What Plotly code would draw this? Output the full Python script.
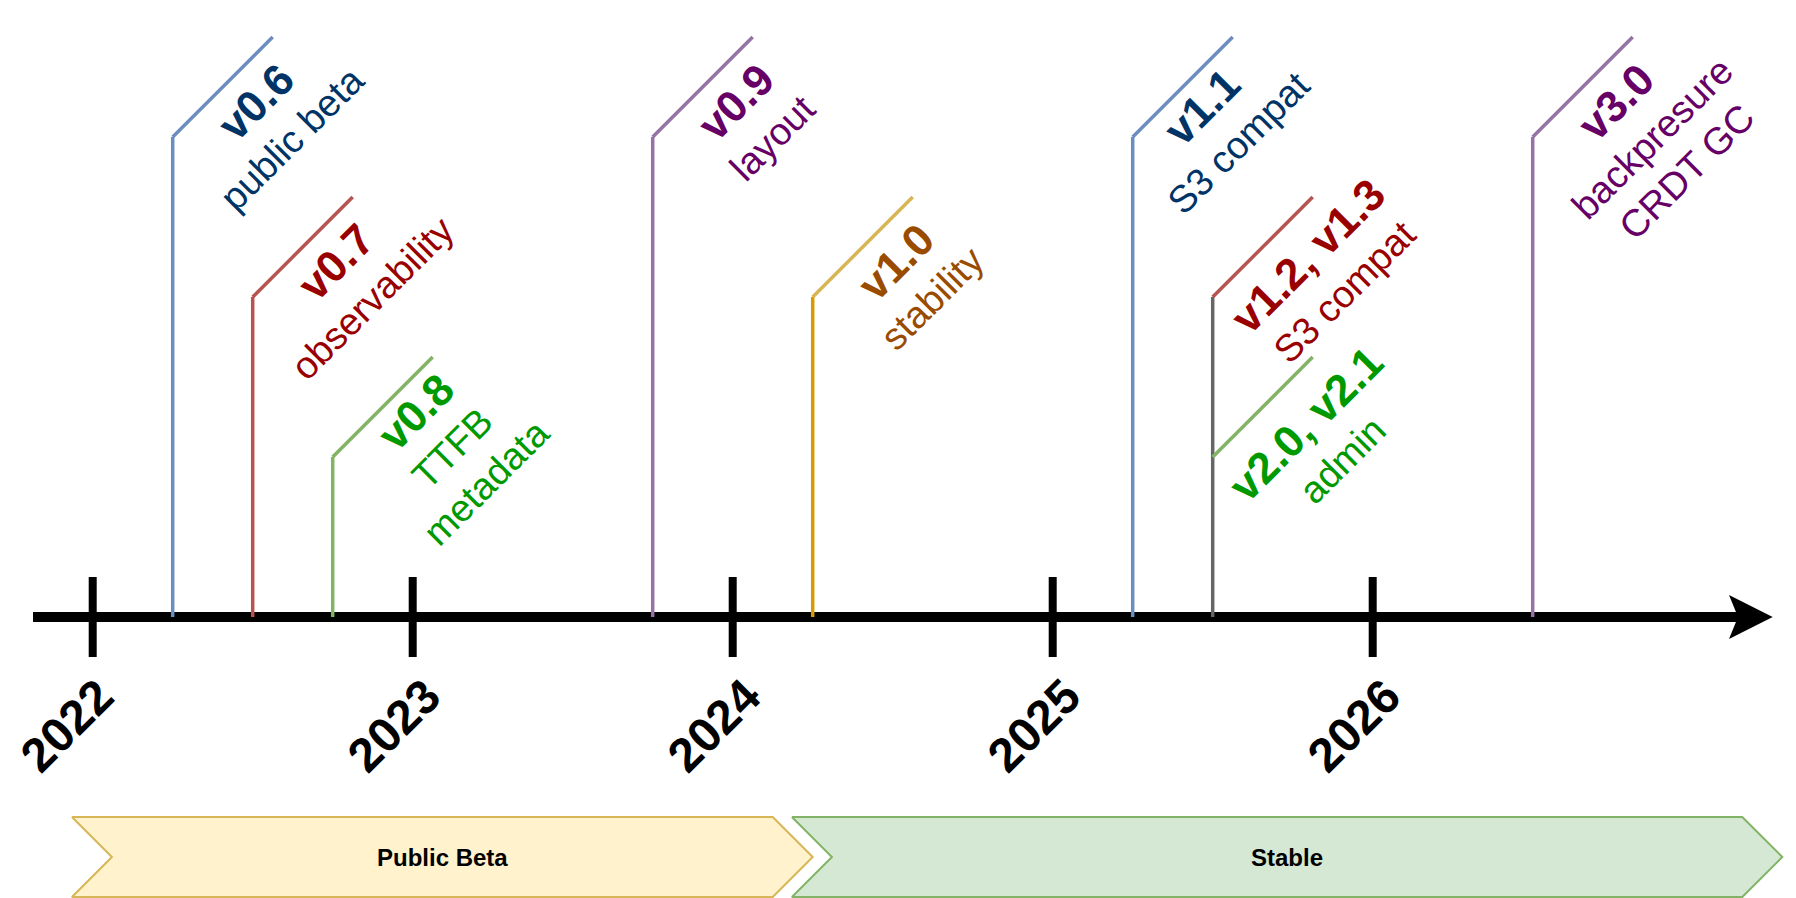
import math
import plotly.graph_objects as go

# --- data ---
years = [2022, 2023, 2024, 2025, 2026]

versions = ["v0.6", "v0.7", "v0.8", "v0.9", "v1.0", "v1.1", "v1.2, v1.3", "v2.0, v2.1", "v3.0"]
notes = [["public beta"], ["observability"], ["TTFB", "metadata"], ["layout"], ["stability"],
         ["S3 compat"], ["S3 compat"], ["admin"], ["backpresure", "CRDT GC"]]
release_dates = [2022.25, 2022.5, 2022.75, 2023.75, 2024.25, 2025.25, 2025.5, 2025.5, 2026.5]
levels = [3, 2, 1, 3, 2, 3, 2, 1, 3]

text_colors = ["#003366", "#990000", "#009900", "#660066", "#994c00",
               "#003366", "#990000", "#009900", "#660066"]
diag_colors = ["#6c8ebf", "#b85450", "#82b366", "#9673a6", "#d6b656",
               "#6c8ebf", "#b85450", "#82b366", "#9673a6"]
stem_colors = ["#6c8ebf", "#b85450", "#82b366", "#9673a6", "#d79b00",
               "#6c8ebf", "#666666", "#666666", "#9673a6"]

phases = ["Public Beta", "Stable"]
phase_start = [2021.935, 2024.185]
phase_end = [2024.25, 2027.28]
phase_fill = ["#fff2cc", "#d5e8d4"]
phase_line = ["#d6b656", "#82b366"]

# --- layout (pixels, figure coords; the page adds an 8px body margin) ---
W, H = 1788, 890
X0_PX = 84.7          # pixel position of the first year tick
PX_PER_YEAR = 320
AXIS_Y = 609          # pixel row of the time axis
LEVEL_PX = 160        # height of one stem level
DIAG = 100            # 45 degree leader length (px each way)
FONT = "Liberation Sans, Arial, Helvetica, sans-serif"

# small hand nudges (px) for a few label blocks, by release index
LABEL_NUDGE = {2: (0, 10), 5: (-14, -5), 6: (12, 6), 7: (10, -2)}
YEAR_NUDGE = {2022: -7}


def px(d):
    return d / PX_PER_YEAR


x_range = [years[0] - px(X0_PX), years[0] + px(W - X0_PX)]
y_range = [-(H - AXIS_Y), AXIS_Y]

fig = go.Figure()

# phase chevrons
for name, x0, x1, fc, lc in zip(phases, phase_start, phase_end, phase_fill, phase_line):
    top, bot, mid, d = -200, -280, -240, px(40)
    fig.add_trace(go.Scatter(
        x=[x0, x1 - d, x1, x1 - d, x0, x0 + d, x0],
        y=[top, top, mid, bot, bot, mid, top],
        mode="lines", fill="toself", fillcolor=fc,
        line=dict(color=lc, width=2), hoverinfo="skip", showlegend=False))
    fig.add_annotation(x=(x0 + x1) / 2, y=mid, text="<b>" + name + "</b>", showarrow=False,
                       font=dict(family=FONT, size=24, color="black"))

# stems: one per date, up to the highest level on that date
tops = {}
for i, d in enumerate(release_dates):
    if d not in tops or levels[i] > levels[tops[d]]:
        tops[d] = i
for d, i in tops.items():
    fig.add_trace(go.Scatter(
        x=[d, d], y=[0, levels[i] * LEVEL_PX], mode="lines",
        line=dict(color=stem_colors[i], width=3.5), hoverinfo="skip", showlegend=False))

# leaders and labels
ALONG = 84
PERP = [34, 86, 134]
r2 = math.sqrt(2)
for i, d in enumerate(release_dates):
    h = levels[i] * LEVEL_PX
    fig.add_trace(go.Scatter(
        x=[d, d + px(DIAG)], y=[h, h + DIAG], mode="lines",
        line=dict(color=diag_colors[i], width=3.5), hoverinfo="skip", showlegend=False))
    nx, ny = LABEL_NUDGE.get(i, (0, 0))
    lines = [("<b>" + versions[i] + "</b>", 44)] + [(n, 38) for n in notes[i]]
    for j, (txt, size) in enumerate(lines):
        p = PERP[j]
        fig.add_annotation(
            x=d, y=h, text=txt, showarrow=False, textangle=-45,
            xanchor="center", yanchor="middle",
            xshift=(ALONG + p) / r2 + nx, yshift=(ALONG - p) / r2 + ny,
            font=dict(family=FONT, size=size, color=text_colors[i]))

# time axis, ticks and arrow head
tip = x_range[0] + px(1764.7)
shapes = [dict(type="line", x0=x_range[0] + px(25), x1=tip - px(32), y0=0, y1=0,
               line=dict(color="black", width=10), layer="below")]
for yr in years:
    shapes.append(dict(type="line", x0=yr, x1=yr, y0=-40, y1=40,
                       line=dict(color="black", width=8), layer="below"))
    fig.add_annotation(x=yr, y=0, text="<b>%d</b>" % yr, showarrow=False, textangle=-45,
                       xanchor="center", yanchor="middle",
                       xshift=-19 + YEAR_NUDGE.get(yr, 0), yshift=-108,
                       font=dict(family=FONT, size=48, color="black"))
back, notch = tip - px(43.7), tip - px(34.7)
shapes.append(dict(type="path", layer="below", fillcolor="black", line=dict(width=0),
                   path="M %f,22 L %f,0 L %f,-22 L %f,0 Z" % (back, tip, back, notch)))

fig.update_layout(
    width=W, height=H, margin=dict(l=0, r=0, t=0, b=0),
    paper_bgcolor="white", plot_bgcolor="white",
    shapes=shapes, showlegend=False,
    xaxis=dict(range=x_range, visible=False, fixedrange=True),
    yaxis=dict(range=y_range, visible=False, fixedrange=True),
)

fig.write_html("out.html")
